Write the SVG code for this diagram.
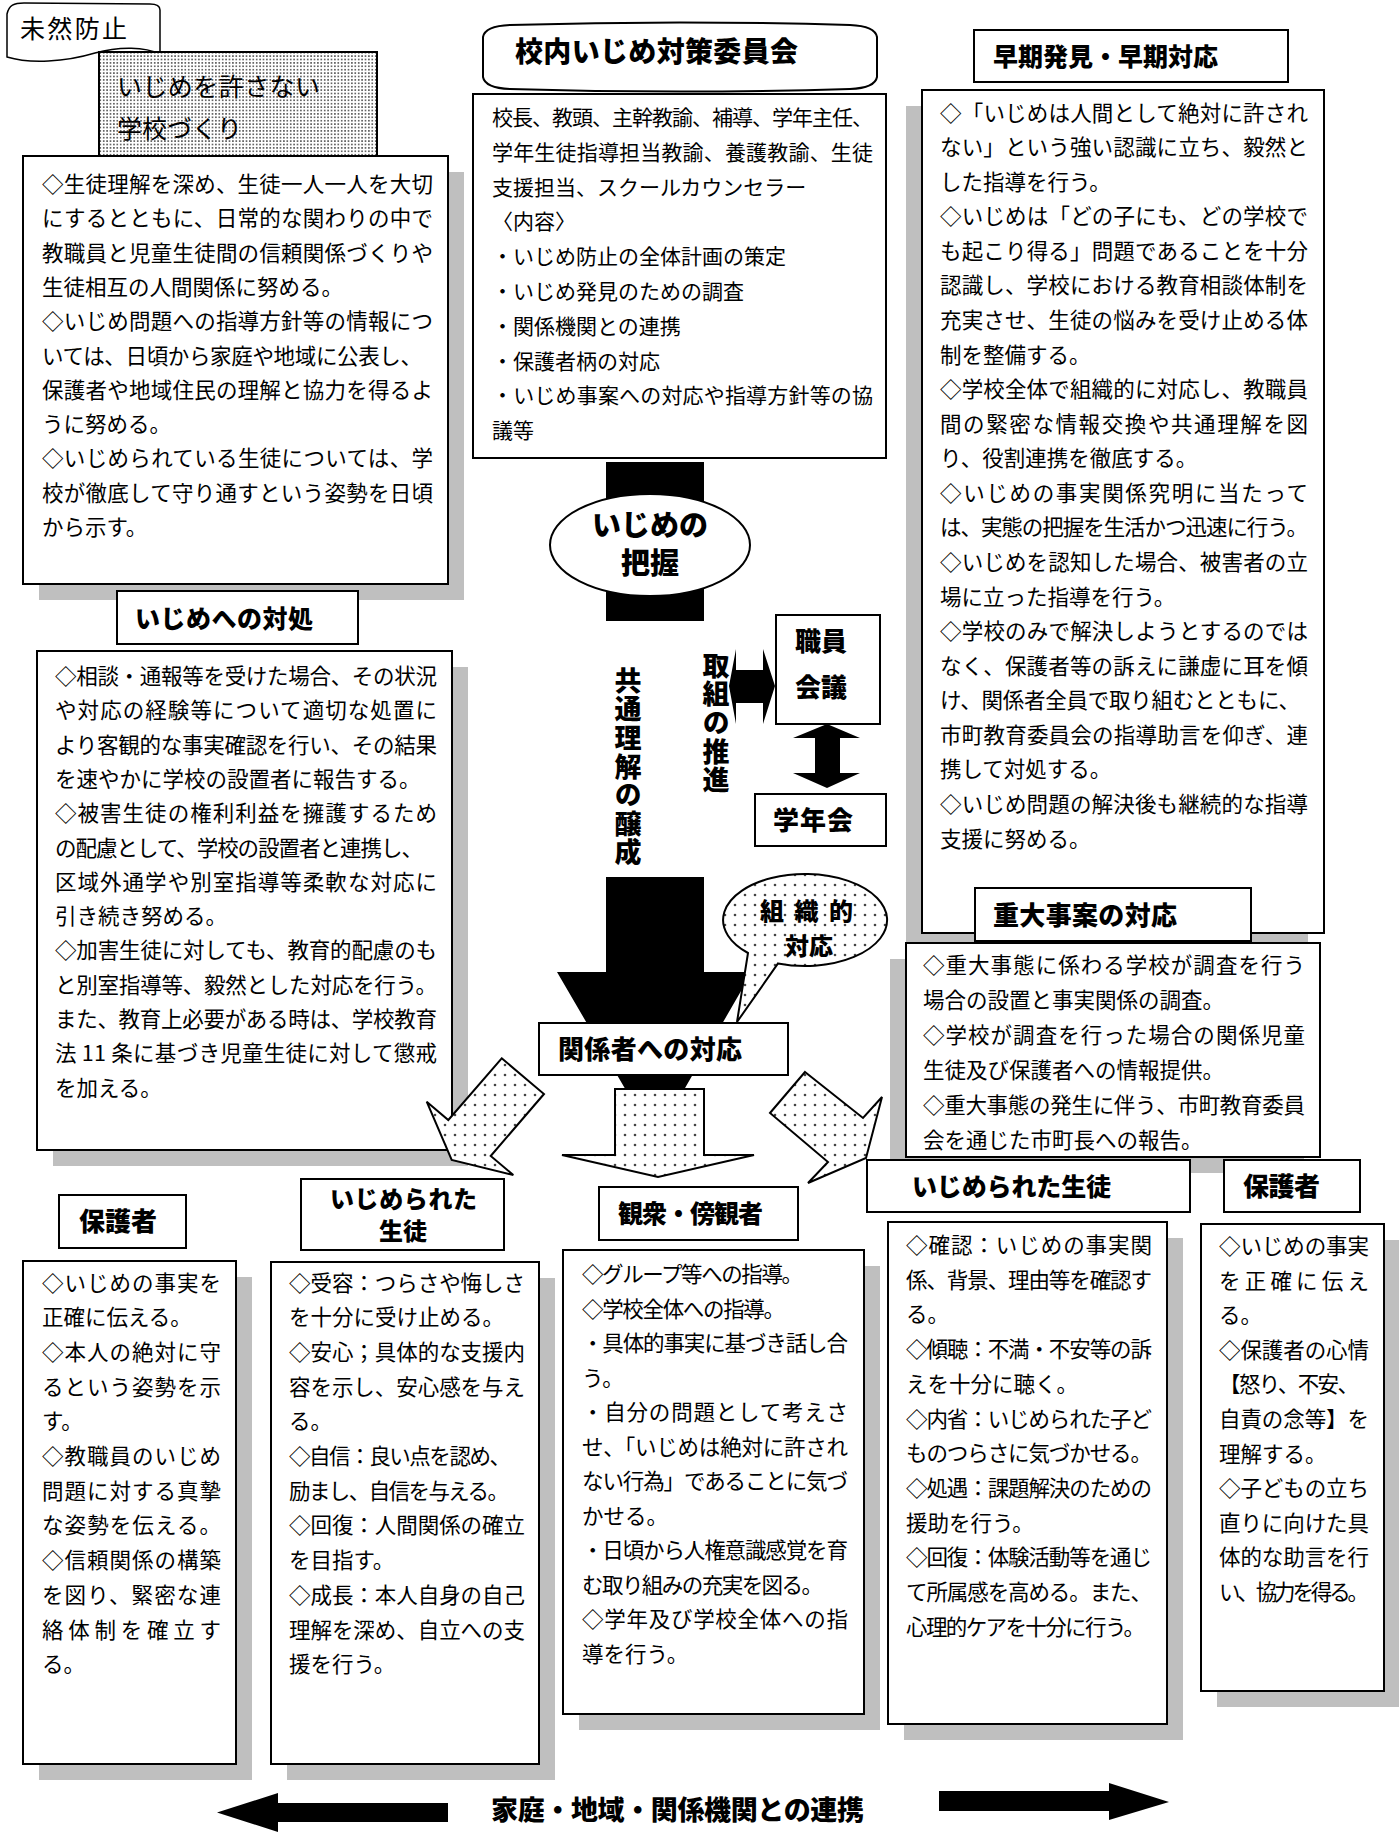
<svg xmlns="http://www.w3.org/2000/svg" width="1399" height="1832" viewBox="0 0 1399 1832">
<style>
.box{fill:#fff;stroke:#000;stroke-width:2}
.sh{fill:#bfbfbf}
.t{font-family:"Noto Sans CJK JP","Noto Sans CJK SC",sans-serif;font-size:21.5px;fill:#000}
.c{font-size:21px}
.h{font-family:"Noto Sans CJK JP","Noto Sans CJK SC",sans-serif;font-weight:900;fill:#000}
.v{writing-mode:vertical-rl;font-size:27px;letter-spacing:1.6px}
.blk{fill:#000}
.dot{fill:url(#dots);stroke:#000;stroke-width:2}
</style>
<defs>
<pattern id="dots" width="10" height="10" patternUnits="userSpaceOnUse"><rect width="10" height="10" fill="#fff"/><circle cx="5" cy="5" r="1.3" fill="#444"/></pattern>
<pattern id="dense" width="3.4" height="3.4" patternUnits="userSpaceOnUse"><rect width="3.4" height="3.4" fill="#fff"/><circle cx="1.7" cy="1.7" r="0.85" fill="#333"/></pattern>
</defs>

<g id="connectors">
<rect class="blk" x="606" y="462" width="98" height="159"/>
<polygon class="blk" points="606,877 704,877 704,972 752,972 655,1140 557,972 606,972"/>
<polygon class="blk" points="729,686 736,649 736,670 763,670 763,649 775,686 763,724 763,703 736,703 736,724"/>
<polygon class="blk" points="827,724 860,738 840,738 840,773 860,773 827,788 793,773 815,773 815,738 793,738"/>
<polygon class="blk" points="217,1812.5 278,1793 278,1803 448,1803 448,1822 278,1822 278,1832"/>
<polygon class="blk" points="939,1791 1109,1791 1109,1783 1169,1802 1109,1820 1109,1811 939,1811"/>
</g>

<g id="mizen-label">
<path d="M7,14 C9,5 14,3 24,3 L150,4 C157,4 160,6 160,10 L160,54 C145,47 120,46 95,53 C65,62 30,64 7,57 Z" fill="#fff" stroke="#000" stroke-width="1.5"/>
<text class="t" x="20" y="38" style="font-size:25px" textLength="107">未然防止</text>
</g>

<g id="box1">
<rect class="sh" x="39" y="172" width="425" height="428"/>
<rect class="box" x="23" y="156" width="425" height="428"/>
<text class="t" x="42" y="192" textLength="391">◇生徒理解を深め、生徒一人一人を大切</text>
<text class="t" x="42" y="226" textLength="391">にするとともに、日常的な関わりの中で</text>
<text class="t" x="42" y="261" textLength="391">教職員と児童生徒間の信頼関係づくりや</text>
<text class="t" x="42" y="295">生徒相互の人間関係に努める。</text>
<text class="t" x="42" y="329" textLength="391">◇いじめ問題への指導方針等の情報につ</text>
<text class="t" x="42" y="364" textLength="380">いては、日頃から家庭や地域に公表し、</text>
<text class="t" x="42" y="398" textLength="391">保護者や地域住民の理解と協力を得るよ</text>
<text class="t" x="42" y="432">うに努める。</text>
<text class="t" x="42" y="466" textLength="391">◇いじめられている生徒については、学</text>
<text class="t" x="42" y="501" textLength="391">校が徹底して守り通すという姿勢を日頃</text>
<text class="t" x="42" y="535">から示す。</text>
</g>

<g id="title-box">
<rect x="99" y="52" width="278" height="104" fill="url(#dense)" stroke="#000" stroke-width="2"/>
<text class="t" x="117" y="95.5" style="font-size:25px" textLength="203">いじめを許さない</text>
<text class="t" x="117" y="137.5" style="font-size:25px">学校づくり</text>
</g>

<g id="committee-header">
<path d="M483,37 Q485,26 510,25 Q680,20 850,25 Q875,26 877,37 L877,77 Q875,88 850,89 Q680,94 510,89 Q485,88 483,77 Z" fill="#fff" stroke="#000" stroke-width="2"/>
<text class="h" x="515" y="62" style="font-size:28px" textLength="283">校内いじめ対策委員会</text>
</g>

<g id="committee">
<rect class="box" x="473" y="94" width="413" height="364"/>
<text class="t c" x="492" y="125" textLength="381">校長、教頭、主幹教諭、補導、学年主任、</text>
<text class="t c" x="492" y="160" textLength="381">学年生徒指導担当教諭、養護教諭、生徒</text>
<text class="t c" x="492" y="195">支援担当、スクールカウンセラー</text>
<text class="t c" x="492" y="229">〈内容〉</text>
<text class="t c" x="492" y="264">・いじめ防止の全体計画の策定</text>
<text class="t c" x="492" y="299">・いじめ発見のための調査</text>
<text class="t c" x="492" y="334">・関係機関との連携</text>
<text class="t c" x="492" y="369">・保護者柄の対応</text>
<text class="t c" x="492" y="403" textLength="381">・いじめ事案への対応や指導方針等の協</text>
<text class="t c" x="492" y="438">議等</text>
</g>

<g id="early-header">
<rect class="box" x="974" y="30" width="314" height="52"/>
<text class="h" x="993" y="65.5" style="font-size:25px" textLength="225">早期発見・早期対応</text>
</g>

<g id="early">
<rect class="sh" x="906" y="106" width="402" height="843"/>
<rect class="box" x="922" y="90" width="402" height="843"/>
<text class="t" x="940" y="120.5" textLength="368">◇「いじめは人間として絶対に許され</text>
<text class="t" x="940" y="155.1" textLength="368">ない」という強い認識に立ち、毅然と</text>
<text class="t" x="940" y="189.6">した指導を行う。</text>
<text class="t" x="940" y="224.2" textLength="368">◇いじめは「どの子にも、どの学校で</text>
<text class="t" x="940" y="258.8" textLength="368">も起こり得る」問題であることを十分</text>
<text class="t" x="940" y="293.4" textLength="368">認識し、学校における教育相談体制を</text>
<text class="t" x="940" y="327.9" textLength="368">充実させ、生徒の悩みを受け止める体</text>
<text class="t" x="940" y="362.5">制を整備する。</text>
<text class="t" x="940" y="397.1" textLength="368">◇学校全体で組織的に対応し、教職員</text>
<text class="t" x="940" y="431.6" textLength="368">間の緊密な情報交換や共通理解を図</text>
<text class="t" x="940" y="466.2">り、役割連携を徹底する。</text>
<text class="t" x="940" y="500.8" textLength="368">◇いじめの事実関係究明に当たって</text>
<text class="t" x="940" y="535.3" textLength="368">は、実態の把握を生活かつ迅速に行う。</text>
<text class="t" x="940" y="569.9" textLength="368">◇いじめを認知した場合、被害者の立</text>
<text class="t" x="940" y="604.5">場に立った指導を行う。</text>
<text class="t" x="940" y="639.1" textLength="368">◇学校のみで解決しようとするのでは</text>
<text class="t" x="940" y="673.6" textLength="368">なく、保護者等の訴えに謙虚に耳を傾</text>
<text class="t" x="940" y="708.2" textLength="360">け、関係者全員で取り組むとともに、</text>
<text class="t" x="940" y="742.8" textLength="368">市町教育委員会の指導助言を仰ぎ、連</text>
<text class="t" x="940" y="777.3">携して対処する。</text>
<text class="t" x="940" y="811.9" textLength="368">◇いじめ問題の解決後も継続的な指導</text>
<text class="t" x="940" y="846.5">支援に努める。</text>
</g>

<g id="taisho-header">
<rect class="box" x="117" y="591" width="241" height="53"/>
<text class="h" x="135" y="628" style="font-size:25px" textLength="178">いじめへの対処</text>
</g>

<g id="taisho">
<rect class="sh" x="53" y="667" width="415" height="499"/>
<rect class="box" x="37" y="651" width="415" height="499"/>
<text class="t" x="55" y="684" textLength="382">◇相談・通報等を受けた場合、その状況</text>
<text class="t" x="55" y="718" textLength="382">や対応の経験等について適切な処置に</text>
<text class="t" x="55" y="753" textLength="382">より客観的な事実確認を行い、その結果</text>
<text class="t" x="55" y="787">を速やかに学校の設置者に報告する。</text>
<text class="t" x="55" y="821" textLength="382">◇被害生徒の権利利益を擁護するため</text>
<text class="t" x="55" y="856" textLength="368">の配慮として、学校の設置者と連携し、</text>
<text class="t" x="55" y="890" textLength="382">区域外通学や別室指導等柔軟な対応に</text>
<text class="t" x="55" y="924">引き続き努める。</text>
<text class="t" x="55" y="958" textLength="382">◇加害生徒に対しても、教育的配慮のも</text>
<text class="t" x="55" y="993" textLength="382">と別室指導等、毅然とした対応を行う。</text>
<text class="t" x="55" y="1027" textLength="382">また、教育上必要がある時は、学校教育</text>
<text class="t" x="55" y="1061" textLength="382">法 11 条に基づき児童生徒に対して懲戒</text>
<text class="t" x="55" y="1096">を加える。</text>
</g>

<g id="haaku">
<ellipse cx="650" cy="545" rx="100" ry="51" fill="#fff" stroke="#000" stroke-width="2"/>
<text class="h" x="650" y="535.5" style="font-size:29px" text-anchor="middle">いじめの</text>
<text class="h" x="650" y="574" style="font-size:29px" text-anchor="middle">把握</text>
</g>

<g id="kyotsu">
<text class="h v" x="628" y="667">共通理解の醸成</text>
</g>

<g id="torikumi">
<text class="h v" x="716" y="652">取組の推進</text>
</g>

<g id="shokuin">
<rect class="box" x="776" y="615" width="104" height="109"/>
<text class="h" x="795" y="650.5" style="font-size:26px">職員</text>
<text class="h" x="795" y="696.5" style="font-size:26px">会議</text>
</g>

<g id="gakunen">
<rect class="box" x="755" y="794" width="131" height="52"/>
<text class="h" x="773" y="830" style="font-size:26px" textLength="80">学年会</text>
</g>

<g id="kankeisha">
<rect class="box" x="539" y="1023" width="249" height="52"/>
<text class="h" x="558" y="1059" style="font-size:26px" textLength="184">関係者への対応</text>
</g>

<g id="dotted-arrows">
<polygon class="dot" points="501.7,1058.3 544,1094 490.7,1156 513.3,1175 451.7,1160 426.7,1101.7 448.3,1120"/>
<polygon class="dot" points="615,1089 704,1089 704,1155 754,1155 658,1177 562,1155 615,1155"/>
<polygon class="dot" points="805,1072 863,1118 882,1097 866,1158 808,1183 828,1162 770,1113"/>
</g>

<g id="soshiki">
<path class="dot" d="M778,963.4 A82 46 0 1 0 748,953 L737,1022 Z"/>
<text class="h" x="760" y="919.5" style="font-size:24px" textLength="93">組織的</text>
<text class="h" x="785" y="954.5" style="font-size:24px">対応</text>
</g>

<g id="judai-header">
<rect class="box" x="975" y="888" width="276" height="53"/>
<text class="h" x="993" y="925" style="font-size:26px" textLength="184">重大事案の対応</text>
</g>

<g id="judai">
<rect class="sh" x="890" y="959" width="414" height="214"/>
<rect class="box" x="906" y="943" width="414" height="214"/>
<text class="t" x="923" y="973" textLength="382">◇重大事態に係わる学校が調査を行う</text>
<text class="t" x="923" y="1008">場合の設置と事実関係の調査。</text>
<text class="t" x="923" y="1043" textLength="382">◇学校が調査を行った場合の関係児童</text>
<text class="t" x="923" y="1078">生徒及び保護者への情報提供。</text>
<text class="t" x="923" y="1113" textLength="382">◇重大事態の発生に伴う、市町教育委員</text>
<text class="t" x="923" y="1148">会を通じた市町長への報告。</text>
</g>

<g id="hogosha-left-header">
<rect class="box" x="59" y="1195" width="127" height="53"/>
<text class="h" x="79" y="1231" style="font-size:26px" textLength="78">保護者</text>
</g>

<g id="hogosha-left">
<rect class="sh" x="39" y="1277" width="213" height="503"/>
<rect class="box" x="23" y="1261" width="213" height="503"/>
<text class="t" x="42" y="1290.5" textLength="179">◇いじめの事実を</text>
<text class="t" x="42" y="1325.2">正確に伝える。</text>
<text class="t" x="42" y="1359.9" textLength="179">◇本人の絶対に守</text>
<text class="t" x="42" y="1394.6" textLength="179">るという姿勢を示</text>
<text class="t" x="42" y="1429.3">す。</text>
<text class="t" x="42" y="1464" textLength="179">◇教職員のいじめ</text>
<text class="t" x="42" y="1498.7" textLength="179">問題に対する真摯</text>
<text class="t" x="42" y="1533.4" textLength="179">な姿勢を伝える。</text>
<text class="t" x="42" y="1568.1" textLength="179">◇信頼関係の構築</text>
<text class="t" x="42" y="1602.8" textLength="179">を図り、緊密な連</text>
<text class="t" x="42" y="1637.5" textLength="179">絡体制を確立す</text>
<text class="t" x="42" y="1672.2">る。</text>
</g>

<g id="ijime-left-header">
<rect class="box" x="301" y="1179" width="203" height="71"/>
<text class="h" x="330" y="1208" style="font-size:24px" textLength="147">いじめられた</text>
<text class="h" x="403" y="1240" style="font-size:24px" text-anchor="middle">生徒</text>
</g>

<g id="ijime-left">
<rect class="sh" x="287" y="1278" width="268" height="502"/>
<rect class="box" x="271" y="1262" width="268" height="502"/>
<text class="t" x="289" y="1290.5" textLength="236">◇受容：つらさや悔しさ</text>
<text class="t" x="289" y="1325.2">を十分に受け止める。</text>
<text class="t" x="289" y="1359.9" textLength="236">◇安心；具体的な支援内</text>
<text class="t" x="289" y="1394.6" textLength="236">容を示し、安心感を与え</text>
<text class="t" x="289" y="1429.3">る。</text>
<text class="t" x="289" y="1464" textLength="222">◇自信：良い点を認め、</text>
<text class="t" x="289" y="1498.7" textLength="220">励まし、自信を与える。</text>
<text class="t" x="289" y="1533.4" textLength="236">◇回復：人間関係の確立</text>
<text class="t" x="289" y="1568.1">を目指す。</text>
<text class="t" x="289" y="1602.8" textLength="236">◇成長：本人自身の自己</text>
<text class="t" x="289" y="1637.5" textLength="236">理解を深め、自立への支</text>
<text class="t" x="289" y="1672.2">援を行う。</text>
</g>

<g id="kanshu-header">
<rect class="box" x="599" y="1187" width="199" height="53"/>
<text class="h" x="618" y="1222.5" style="font-size:25px" textLength="145">観衆・傍観者</text>
</g>

<g id="kanshu">
<rect class="sh" x="579" y="1266" width="301" height="464"/>
<rect class="box" x="563" y="1250" width="301" height="464"/>
<text class="t" x="582" y="1282" textLength="221">◇グループ等への指導。</text>
<text class="t" x="582" y="1316.5" textLength="203">◇学校全体への指導。</text>
<text class="t" x="582" y="1351" textLength="266">・具体的事実に基づき話し合</text>
<text class="t" x="582" y="1385.5">う。</text>
<text class="t" x="582" y="1420" textLength="266">・自分の問題として考えさ</text>
<text class="t" x="582" y="1454.5" textLength="266">せ、「いじめは絶対に許され</text>
<text class="t" x="582" y="1489" textLength="266">ない行為」であることに気づ</text>
<text class="t" x="582" y="1523.5">かせる。</text>
<text class="t" x="582" y="1558" textLength="266">・日頃から人権意識感覚を育</text>
<text class="t" x="582" y="1592.5" textLength="241">む取り組みの充実を図る。</text>
<text class="t" x="582" y="1627" textLength="266">◇学年及び学校全体への指</text>
<text class="t" x="582" y="1661.5">導を行う。</text>
</g>

<g id="ijime-right-header">
<rect class="box" x="867" y="1160" width="323" height="52"/>
<text class="h" x="912" y="1195.5" style="font-size:25px" textLength="199">いじめられた生徒</text>
</g>

<g id="ijime-right">
<rect class="sh" x="904" y="1238" width="279" height="502"/>
<rect class="box" x="888" y="1222" width="279" height="502"/>
<text class="t" x="906" y="1253" textLength="246">◇確認：いじめの事実関</text>
<text class="t" x="906" y="1287.7" textLength="246">係、背景、理由等を確認す</text>
<text class="t" x="906" y="1322.4">る。</text>
<text class="t" x="906" y="1357.1" textLength="246">◇傾聴：不満・不安等の訴</text>
<text class="t" x="906" y="1391.8">えを十分に聴く。</text>
<text class="t" x="906" y="1426.5" textLength="246">◇内省：いじめられた子ど</text>
<text class="t" x="906" y="1461.2" textLength="246">ものつらさに気づかせる。</text>
<text class="t" x="906" y="1495.9" textLength="246">◇処遇：課題解決のための</text>
<text class="t" x="906" y="1530.6">援助を行う。</text>
<text class="t" x="906" y="1565.3" textLength="246">◇回復：体験活動等を通じ</text>
<text class="t" x="906" y="1600" textLength="246">て所属感を高める。また、</text>
<text class="t" x="906" y="1634.7" textLength="239">心理的ケアを十分に行う。</text>
</g>

<g id="hogosha-right-header">
<rect class="box" x="1224" y="1160" width="136" height="52"/>
<text class="h" x="1243" y="1195.5" style="font-size:26px" textLength="77">保護者</text>
</g>

<g id="hogosha-right">
<rect class="sh" x="1217" y="1240" width="183" height="467"/>
<rect class="box" x="1201" y="1224" width="183" height="467"/>
<text class="t" x="1219" y="1254" textLength="150">◇いじめの事実</text>
<text class="t" x="1219" y="1288.6" textLength="150">を正確に伝え</text>
<text class="t" x="1219" y="1323.2">る。</text>
<text class="t" x="1219" y="1357.8" textLength="150">◇保護者の心情</text>
<text class="t" x="1219" y="1392.4" textLength="140">【怒り、不安、</text>
<text class="t" x="1219" y="1427" textLength="150">自責の念等】を</text>
<text class="t" x="1219" y="1461.6">理解する。</text>
<text class="t" x="1219" y="1496.2" textLength="150">◇子どもの立ち</text>
<text class="t" x="1219" y="1530.8" textLength="150">直りに向けた具</text>
<text class="t" x="1219" y="1565.4" textLength="150">体的な助言を行</text>
<text class="t" x="1219" y="1600" textLength="150">い、協力を得る。</text>
</g>

<g id="renkei">
<text class="h" x="491" y="1820" style="font-size:27px" textLength="373">家庭・地域・関係機関との連携</text>
</g>
</svg>
